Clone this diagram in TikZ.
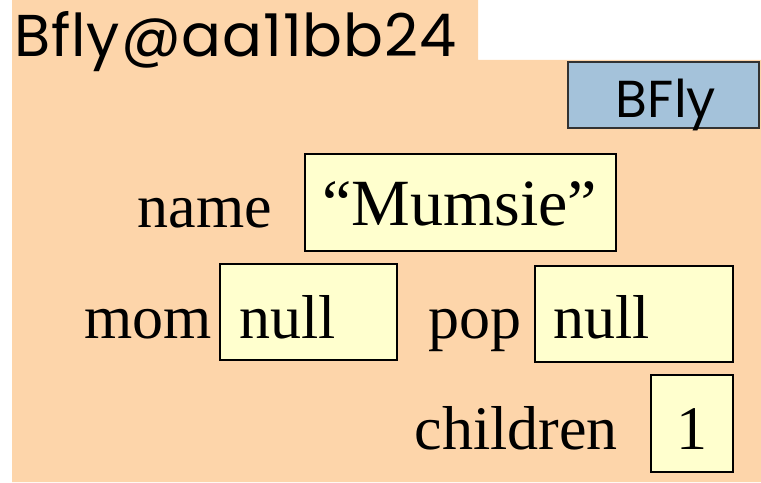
\documentclass[tikz,border=0pt]{standalone}
\usepackage{fontspec}
\setmainfont{Liberation Serif}
\newfontfamily\gothic[LetterSpace=1.5]{Poppins}
\newfontfamily\gothictag{Poppins}
\definecolor{objfill}{RGB}{253,213,170}
\definecolor{fieldfill}{RGB}{255,255,206}
\definecolor{typefill}{RGB}{164,194,218}
\definecolor{typeedge}{RGB}{50,50,50}
\begin{document}
\begin{tikzpicture}[x=1bp,y=-1bp,
  fieldbox/.style={draw=black,line width=1.6bp,fill=fieldfill,inner sep=0pt},
  fieldtext/.style={font=\fontsize{62bp}{62bp}\selectfont,inner sep=0pt,anchor=base west},
  label/.style={font=\fontsize{62bp}{62bp}\selectfont,inner sep=0pt,anchor=base east}]
  \useasboundingbox (0,0) rectangle (761,483);
  % object body with its header tab
  \fill[objfill] (12,0) -- (478,0) -- (478,60) -- (761,60) -- (761,482) -- (12,482) -- cycle;
  \node[font=\gothic\fontsize{59bp}{59bp}\selectfont,inner sep=0pt,anchor=base west] (title) at (14,57) {Bfly@aa11bb24};
  % class tag
  \draw[fill=typefill,draw=typeedge,line width=1.3bp] (568,62) rectangle (759,128);
  \node[font=\gothictag\fontsize{52bp}{52bp}\selectfont,inner sep=0pt,anchor=base] (cls) at (666,118) {BFly};
  % fields
  \draw[fieldbox] (305,154) rectangle (616,251);
  \node[fieldtext,font=\fontsize{66bp}{66bp}\selectfont] (nameval) at (322,226) {“Mumsie”};
  \node[label] (name) at (272,228) {name};
  \draw[fieldbox] (220,264) rectangle (397,360);
  \node[fieldtext] (momval) at (239,338) {null};
  \node[label] (mom) at (212,338) {mom};
  \draw[fieldbox] (535,266) rectangle (733,362);
  \node[fieldtext] (popval) at (553,338) {null};
  \node[label] (pop) at (522,338) {pop};
  \draw[fieldbox] (651,375) rectangle (733,472);
  \node[fieldtext] (childval) at (676,449) {1};
  \node[label] (children) at (618,449) {children};
\end{tikzpicture}
\end{document}
